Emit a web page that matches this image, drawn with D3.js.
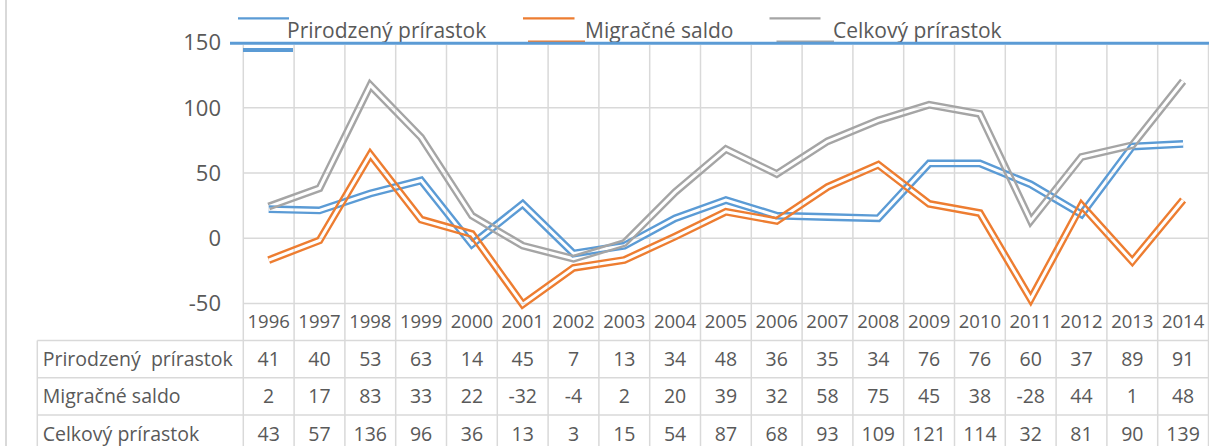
<!DOCTYPE html>
<html>
<head>
<meta charset="utf-8">
<script src="https://cdn.jsdelivr.net/npm/d3@7"></script>
<style>
  body { margin: 0; background: #fff; }
  text { font-family: "Open Sans", sans-serif; fill: #595959; }
</style>
</head>
<body>
<div id="chart"></div>
<script>
// values
const years = [1996, 1997, 1998, 1999, 2000, 2001, 2002, 2003, 2004, 2005, 2006, 2007, 2008, 2009, 2010, 2011, 2012, 2013, 2014]
const prirodzeny = [41, 40, 53, 63, 14, 45, 7, 13, 34, 48, 36, 35, 34, 76, 76, 60, 37, 89, 91]
const migracne = [2, 17, 83, 33, 22, -32, -4, 2, 20, 39, 32, 58, 75, 45, 38, -28, 44, 1, 48]
const celkovy = [43, 57, 136, 96, 36, 13, 3, 15, 54, 87, 68, 93, 109, 121, 114, 32, 81, 90, 139]
const seriesNames = ['Prirodzený prírastok', 'Migračné saldo', 'Celkový prírastok']
const rowLabels = ['Prirodzený  prírastok', 'Migračné saldo', 'Celkový prírastok']
const yTicks = [150, 100, 50, 0, -50]

const colors = ['#5b9bd5', '#ed7d31', '#a5a5a5']
const series = [prirodzeny, migracne, celkovy]

const width = 1209
const height = 446
const grid = '#d9d9d9'

// in the source picture the plotted lines sit ~18.7 units below the axis labels
const yShift = 18.7

const svg = d3.select('#chart').append('svg')
  .attr('width', width)
  .attr('height', height)

const x = d3.scaleBand().domain(years).range([243.3, 1208.5])
const y = d3.scaleLinear().domain([-50, 150]).range([303.5, 42.5])
const yData = d3.scaleLinear().domain([-50 + yShift, 150 + yShift]).range([303.5, 42.5])

const rowTop = 340.5
const rowH = 37.2

// outer border on the left
svg.append('line')
  .attr('x1', 6).attr('x2', 6).attr('y1', 0).attr('y2', height)
  .attr('stroke', grid).attr('stroke-width', 2)

// horizontal gridlines
svg.append('g').selectAll('line')
  .data(yTicks.filter((d) => d !== 150))
  .join('line')
  .attr('x1', x.range()[0]).attr('x2', x.range()[1])
  .attr('y1', (d) => y(d)).attr('y2', (d) => y(d))
  .attr('stroke', grid).attr('stroke-width', 1.5)

// vertical gridlines, running down through the data table
const edges = years.map((d) => x(d)).concat([x.range()[1]])
svg.append('g').selectAll('line')
  .data(edges)
  .join('line')
  .attr('x1', (d) => d).attr('x2', (d) => d)
  .attr('y1', 45).attr('y2', height)
  .attr('stroke', grid).attr('stroke-width', 1.5)

// table rows
svg.append('g').selectAll('line')
  .data([0, 1, 2, 3])
  .join('line')
  .attr('x1', 37.3).attr('x2', x.range()[1])
  .attr('y1', (d) => rowTop + d * rowH).attr('y2', (d) => rowTop + d * rowH)
  .attr('stroke', grid).attr('stroke-width', 1.5)
svg.append('line')
  .attr('x1', 37.3).attr('x2', 37.3).attr('y1', rowTop).attr('y2', height)
  .attr('stroke', grid).attr('stroke-width', 1.5)

// y axis labels
svg.append('g').selectAll('text')
  .data(yTicks)
  .join('text')
  .attr('x', 221)
  .attr('y', (d) => y(d))
  .attr('dy', '0.36em')
  .attr('text-anchor', 'end')
  .style('font-size', '22px')
  .text((d) => d)

// year labels
svg.append('g').selectAll('text')
  .data(years)
  .join('text')
  .attr('x', (d) => x(d) + x.bandwidth() / 2)
  .attr('y', 321.5)
  .attr('dy', '0.36em')
  .attr('text-anchor', 'middle')
  .style('font-size', '18.5px')
  .text((d) => d)

// double lines: a wide stroke with a transparent core cut out by a mask
const line = d3.line()
  .x((d, i) => x(years[i]) + x.bandwidth() / 2)
  .y((d) => yData(d))

const defs = svg.append('defs')
series.forEach((values, k) => {
  const mask = defs.append('mask')
    .attr('id', 'core' + k)
    .attr('maskUnits', 'userSpaceOnUse')
    .attr('x', 0).attr('y', 0).attr('width', width).attr('height', height)
  mask.append('rect')
    .attr('width', width).attr('height', height).attr('fill', '#fff')
  mask.append('path')
    .attr('d', line(values))
    .attr('fill', 'none').attr('stroke', '#000').attr('stroke-width', 3)

  svg.append('path')
    .attr('d', line(values))
    .attr('fill', 'none')
    .attr('stroke', colors[k])
    .attr('stroke-width', 7.8)
    .attr('mask', `url(#core${k})`)
})

// legend
const keyTop = [[238, 289], [523, 574.5], [769.5, 820.5]]
const keyBottom = [null, [528, 585], [776.5, 834]]
const textX = [287, 585, 833]
const legend = svg.append('g')
seriesNames.forEach((name, k) => {
  legend.append('line')
    .attr('x1', keyTop[k][0]).attr('x2', keyTop[k][1])
    .attr('y1', 18.3).attr('y2', 18.3)
    .attr('stroke', colors[k]).attr('stroke-width', 2.2)
  if (keyBottom[k]) {
    legend.append('line')
      .attr('x1', keyBottom[k][0]).attr('x2', keyBottom[k][1])
      .attr('y1', 41.5).attr('y2', 41.5)
      .attr('stroke', colors[k]).attr('stroke-width', 2.2)
  }
  legend.append('text')
    .attr('x', textX[k])
    .attr('y', 38.3)
    .style('font-size', '21px')
    .text(name)
})
// stray blue strokes of the first legend key
legend.append('line')
  .attr('x1', 230).attr('x2', width)
  .attr('y1', y(150) + 0.8).attr('y2', y(150) + 0.8)
  .attr('stroke', colors[0]).attr('stroke-width', 3)
legend.append('line')
  .attr('x1', 243).attr('x2', 293)
  .attr('y1', 50).attr('y2', 50)
  .attr('stroke', colors[0]).attr('stroke-width', 4)

// data table
const rows = svg.append('g').selectAll('g')
  .data(series)
  .join('g')
  .attr('transform', (d, i) => `translate(0,${rowTop + (i + 0.5) * rowH})`)

rows.append('text')
  .attr('x', 42.7)
  .attr('dy', '0.36em')
  .style('font-size', '19.5px')
  .style('white-space', 'pre')
  .text((d, i) => rowLabels[i])

rows.selectAll('text.v')
  .data((d) => d)
  .join('text')
  .attr('class', 'v')
  .attr('x', (d, i) => x(years[i]) + x.bandwidth() / 2)
  .attr('dy', '0.36em')
  .attr('text-anchor', 'middle')
  .style('font-size', '19.5px')
  .text((d) => d)
</script>
</body>
</html>
